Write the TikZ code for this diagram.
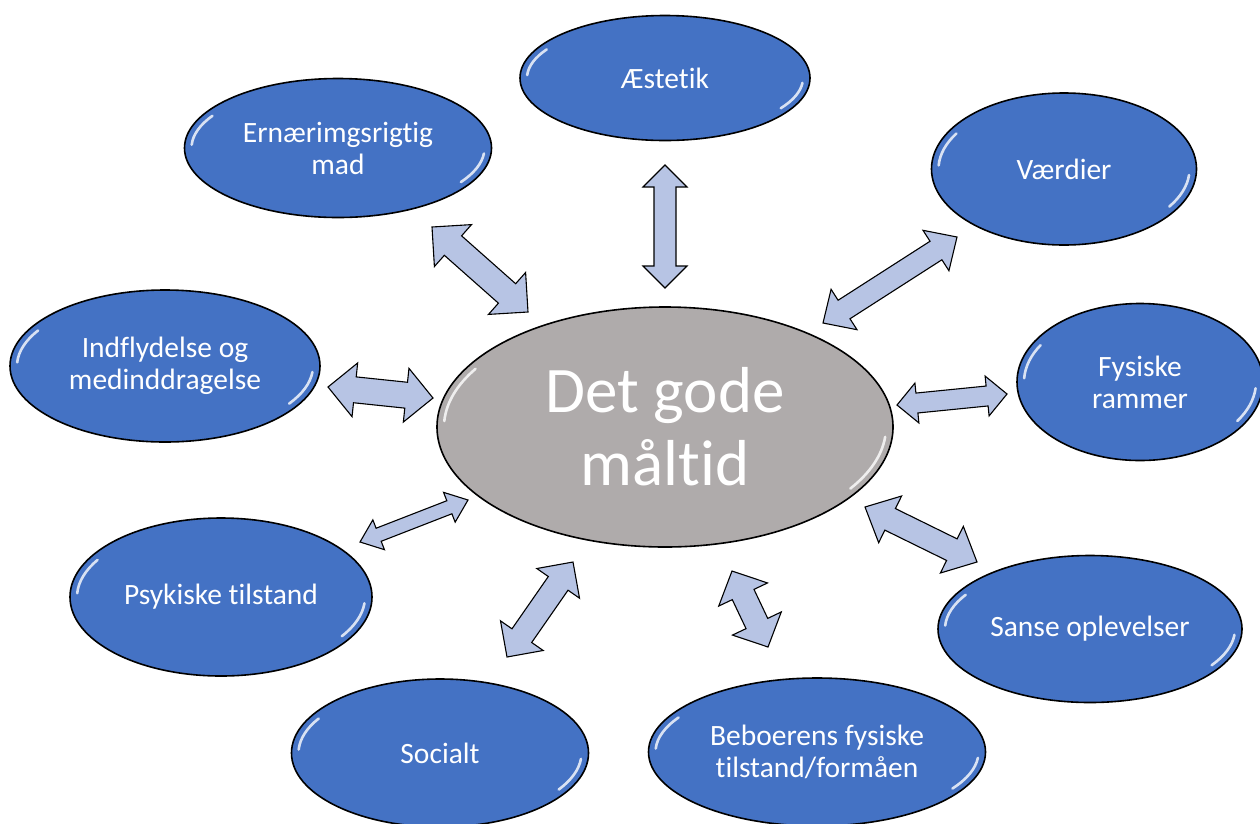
\documentclass[tikz,border=0pt]{standalone}
\usepackage{fontspec}
\setmainfont{Carlito}[Ligatures=NoCommon]
\usetikzlibrary{shapes.geometric,calc}
\definecolor{blobblue}{RGB}{68,114,196}
\definecolor{blobedge}{RGB}{52,92,165}
\definecolor{hubgray}{RGB}{175,171,171}
\definecolor{hubedge}{RGB}{140,136,136}
\definecolor{arrowfill}{RGB}{183,196,228}
\pgfdeclareradialshading{blueshade}{\pgfpoint{0bp}{0bp}}{color(0bp)=(blobblue); color(40bp)=(blobblue); color(50bp)=(blobedge)}
\pgfdeclareradialshading{grayshade}{\pgfpoint{0bp}{0bp}}{color(0bp)=(hubgray); color(41bp)=(hubgray); color(50bp)=(hubedge)}
\tikzset{
  blob/.style={ellipse, draw=black, line width=1.6pt, shade, shading=blueshade, text=white, inner sep=0pt, align=center, font=\fontsize{29.5}{32}\selectfont},
  hub/.style={ellipse, draw=black, line width=1.6pt, shade, shading=grayshade, text=white, inner sep=0pt, align=center, font=\fontsize{65}{73}\selectfont},
  shine/.style={white, line width=2.6pt, line cap=round, opacity=0.8},
  blockarr/.style={draw=black, line width=1.1pt, fill=arrowfill, line join=miter}
}
% name, x, y, width, height, node style, text
\newcommand{\blob}[7]{%
  \node[#6, minimum width=#4pt, minimum height=#5pt] (#1) at (#2,#3) {#7};
  \pgfmathsetmacro\shrx{#4/2-7}\pgfmathsetmacro\shry{#5/2-7}%
  \draw[shine] (#1.center) ++({\shrx*cos(183)},{\shry*sin(183)}) arc[start angle=183,end angle=211,x radius=\shrx,y radius=\shry];
  \draw[shine] (#1.center) ++({\shrx*cos(5)},{\shry*sin(5)}) arc[start angle=5,end angle=33,x radius=\shrx,y radius=\shry];
}
% from, to, shaft half width, head half width, head length
\newcommand{\blockarrow}[5]{%
  \coordinate (#1-hA) at ($(#1)!#5!(#2)$);
  \coordinate (#1-hB) at ($(#2)!#5!(#1)$);
  \draw[blockarr] (#1)
    -- ($(#1-hA)!#4!90:(#2)$) -- ($(#1-hA)!#3!90:(#2)$)
    -- ($(#1-hB)!#3!-90:(#1)$) -- ($(#1-hB)!#4!-90:(#1)$)
    -- (#2)
    -- ($(#1-hB)!#4!90:(#1)$) -- ($(#1-hB)!#3!90:(#1)$)
    -- ($(#1-hA)!#3!-90:(#2)$) -- ($(#1-hA)!#4!-90:(#2)$)
    -- cycle;
}
\begin{document}
\begin{tikzpicture}[x=1pt,y=-1pt]
\useasboundingbox[fill=white] (0,0) rectangle (1260,823);

% arrows
\coordinate (a1s) at (665,165); \coordinate (a1e) at (665,288);
\coordinate (a2s) at (432,227); \coordinate (a2e) at (528,312);
\coordinate (a3s) at (957,237); \coordinate (a3e) at (823,323);
\coordinate (a4s) at (897,405); \coordinate (a4e) at (1007,394);
\coordinate (a5s) at (328,387); \coordinate (a5e) at (433,398);
\coordinate (a6s) at (865,507); \coordinate (a6e) at (977,562);
\coordinate (a7s) at (360,542); \coordinate (a7e) at (468,500);
\coordinate (a8s) at (507,657); \coordinate (a8e) at (573,562);
\coordinate (a9s) at (732,571); \coordinate (a9e) at (768,647);
\blockarrow{a1s}{a1e}{11pt}{22pt}{22pt}
\blockarrow{a2s}{a2e}{13pt}{28pt}{28pt}
\blockarrow{a3s}{a3e}{11pt}{24pt}{25pt}
\blockarrow{a4s}{a4e}{10pt}{20pt}{20pt}
\blockarrow{a5s}{a5e}{13pt}{27pt}{27pt}
\blockarrow{a6s}{a6e}{12pt}{26pt}{28pt}
\blockarrow{a7s}{a7e}{7pt}{16pt}{20pt}
\blockarrow{a8s}{a8e}{12pt}{26pt}{26pt}
\blockarrow{a9s}{a9e}{12pt}{27pt}{26pt}

% ellipses
\blob{hubn}{665}{427}{456}{240}{hub}{Det gode\\måltid}
\blob{aest}{665}{78}{290}{125}{blob}{Æstetik}
\blob{ern}{338}{148}{307}{139}{blob}{Ernærimgsrigtig\\mad}
\blob{vaerd}{1064}{169}{265}{152}{blob}{Værdier}
\blob{indfl}{165}{366}{310}{152}{blob}{Indflydelse og\\medinddragelse}
\blob{fys}{1140}{382}{246}{157}{blob}{Fysiske\\rammer}
\blob{psyk}{221}{597}{302}{158}{blob}{Psykiske tilstand}
\blob{sanse}{1090}{629}{304}{147}{blob}{Sanse oplevelser}
\blob{soc}{440}{753}{297}{148}{blob}{Socialt}
\blob{bebo}{817}{752}{337}{148}{blob}{Beboerens fysiske\\tilstand/formåen}
\end{tikzpicture}
\end{document}
